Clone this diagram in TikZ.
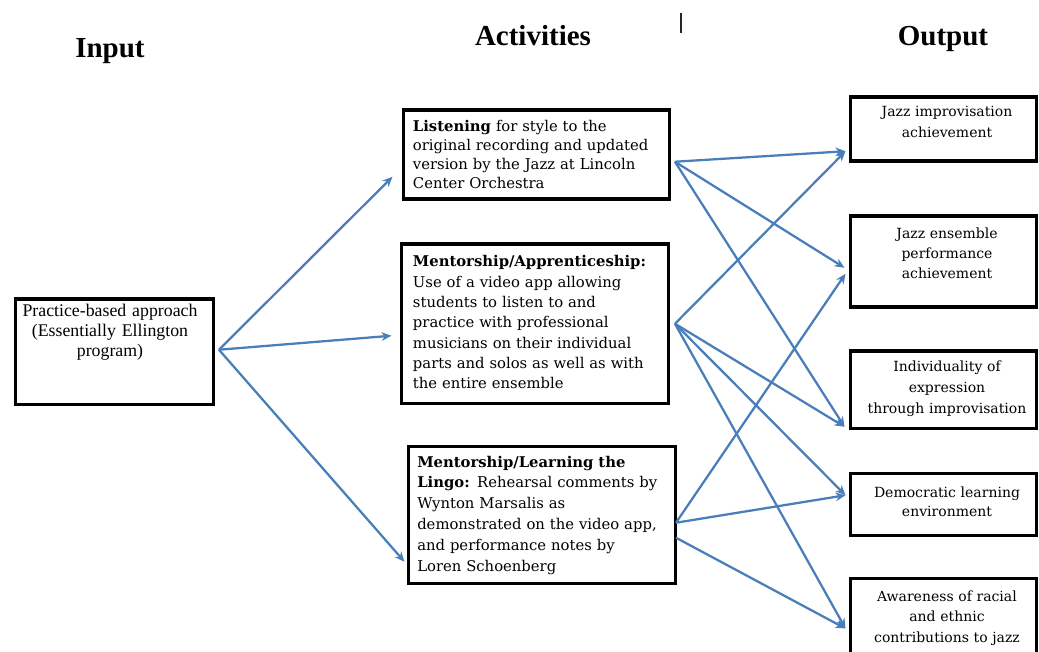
\documentclass[tikz,border=0pt]{standalone}
\usepackage{fontspec}
\setmainfont{DejaVu Serif}
\newfontfamily\tnr{Liberation Serif}
\usetikzlibrary{arrows.meta,calc}
\definecolor{arrowblue}{RGB}{74,126,187}
\tikzset{
  box/.style={draw=black, line width=2.6pt, inner sep=0pt, anchor=north west},
  head/.style={font=\tnr\bfseries\fontsize{21.75pt}{24pt}\selectfont, anchor=base, inner sep=0pt},
  acttext/.style={anchor=base west, inner sep=0pt, text width=195pt, align=left},
  outtext/.style={anchor=base, inner sep=0pt, text width=142pt, align=center},
  conn/.style={draw=arrowblue, line width=1.7pt, -{Stealth[length=7.5pt,width=6.5pt]}}
}
\begin{document}
\begin{tikzpicture}[x=0.75pt,y=-0.75pt]
\useasboundingbox (0,0) rectangle (1039,652);
\begin{scope}
\clip (0,0) rectangle (1039,652);
% headings
\node[head] (hin) at (110,58) {Input};
\node[head] (hact) at (533,46) {Activities};
\node[head] (hout) at (943,46) {Output};
\draw[line width=1.1pt, black!85] (681,13) -- (681,33);

% input box
\node[box, minimum width=198*0.75pt, minimum height=105*0.75pt] (input) at (13.5,297.5) {};
\node[anchor=base, inner sep=0pt, text width=170pt, align=center,
      font=\tnr\fontsize{13.35pt}{15pt}\selectfont] (intext) at (110,317)
  {Practice-based approach\\(Essentially Ellington\\program)};

% activity boxes
\node[box, minimum width=266*0.75pt, minimum height=89*0.75pt] (listen) at (401.5,108.5) {};
\node[acttext, font=\fontsize{11.1pt}{14.25pt}\selectfont] (listentext) at (412.7,132)
  {\textbf{Listening} for style to the\\original recording and updated\\version by the Jazz at Lincoln\\Center Orchestra};

\node[box, minimum width=267*0.75pt, minimum height=159*0.75pt] (appr) at (399.5,242.5) {};
\node[acttext, font=\fontsize{11.1pt}{15.2pt}\selectfont] (apprtext) at (412.7,267)
  {\textbf{Mentorship/Apprenticeship:}\\Use of a video app allowing\\students to listen to and\\practice with professional\\musicians on their individual\\parts and solos as well as with\\the entire ensemble};

\node[box, minimum width=267*0.75pt, minimum height=137*0.75pt] (lingo) at (406.5,444.5) {};
\node[acttext, font=\fontsize{11.1pt}{15.7pt}\selectfont] (lingotext) at (417,467)
  {\textbf{Mentorship/Learning the}\\\textbf{Lingo:} Rehearsal comments by\\Wynton Marsalis as\\demonstrated on the video app,\\and performance notes by\\Loren Schoenberg};

% output boxes
\node[box, minimum width=186*0.75pt, minimum height=64*0.75pt] (o1) at (848.5,95.5) {};
\node[outtext, font=\fontsize{10.5pt}{15.6pt}\selectfont] (o1text) at (947,117)
  {Jazz improvisation\\achievement};

\node[box, minimum width=186*0.75pt, minimum height=91*0.75pt] (o2) at (848.5,214.5) {};
\node[outtext, font=\fontsize{10.5pt}{15pt}\selectfont] (o2text) at (947,239)
  {Jazz ensemble\\performance\\achievement};

\node[box, minimum width=186*0.75pt, minimum height=77*0.75pt] (o3) at (848.5,349.5) {};
\node[outtext, font=\fontsize{10.5pt}{15.4pt}\selectfont] (o3text) at (947,372)
  {Individuality of\\expression\\through improvisation};

\node[box, minimum width=186*0.75pt, minimum height=62*0.75pt] (o4) at (848.5,471.5) {};
\node[outtext, font=\fontsize{10.5pt}{14.6pt}\selectfont] (o4text) at (947,497)
  {Democratic learning\\environment};

\node[box, minimum width=186*0.75pt, minimum height=95*0.75pt] (o5) at (848.5,576.5) {};
\node[outtext, font=\fontsize{10.5pt}{15.4pt}\selectfont] (o5text) at (947,601)
  {Awareness of racial\\and ethnic\\contributions to jazz};
\end{scope}

% input -> activities
\draw[conn] ($(input.east)+(4,-2)$) -- ($(listen.west)+(-9,22)$);
\draw[conn] ($(input.east)+(4,-2)$) -- ($(appr.west)+(-8,12)$);
\draw[conn] ($(input.east)+(4,-2)$) -- ($(lingo.west)+(-2,47)$);

% listening -> outputs
\draw[conn] ($(listen.east)+(4,7)$) -- ($(o1.west)+(-3,22)$);
\draw[conn] ($(listen.east)+(4,7)$) -- ($(o2.west)+(-4,6)$);
\draw[conn] ($(listen.east)+(4,7)$) -- ($(o3.west)+(-4,37)$);

% apprenticeship -> outputs
\draw[conn] ($(appr.east)+(5,0)$) -- ($(o1.west)+(-3,22)$);
\draw[conn] ($(appr.east)+(5,0)$) -- ($(o3.west)+(-4,37)$);
\draw[conn] ($(appr.east)+(5,0)$) -- ($(o4.west)+(-3,-9)$);
\draw[conn] ($(appr.east)+(5,0)$) -- ($(o5.north west)+(-3,52)$);

% lingo -> outputs
\draw[conn] ($(lingo.east)+(-1,8)$) -- ($(o2.west)+(-3,12)$);
\draw[conn] ($(lingo.east)+(-1,8)$) -- ($(o4.west)+(-3,-9)$);
\draw[conn] ($(lingo.east)+(-1,23)$) -- ($(o5.north west)+(-3,52)$);
\end{tikzpicture}
\end{document}
